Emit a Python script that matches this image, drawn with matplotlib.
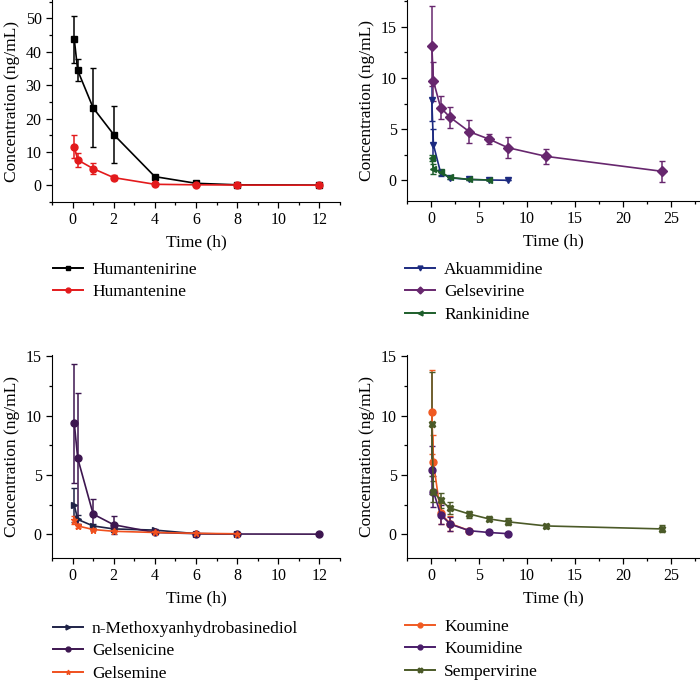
import matplotlib
matplotlib.use("Agg")
from matplotlib import pyplot as plt
from matplotlib.lines import Line2D

plt.rcParams["font.family"] = ["Liberation Serif", "DejaVu Serif"]

# Sampling times (h)
t_short = [0.083, 0.25, 1, 2, 4, 6, 8, 12]
t_long = [0.083, 0.25, 1, 2, 4, 6, 8, 12, 24]
t_8 = [0.083, 0.25, 1, 2, 4, 6, 8]
t_6 = [0.083, 0.25, 1, 2, 4, 6]
t_4 = [0.083, 0.25, 1, 2, 4]

# Panel A
humantenirine = [43.7, 34.4, 23.2, 15.2, 2.6, 0.6, 0.15, 0.05]
humantenirine_sd = [7.0, 3.3, 11.8, 8.6, 0.4, 0.2, 0.05, 0.02]
humantenine = [11.6, 7.6, 5.0, 2.3, 0.3, 0.15, 0.08, 0.03]
humantenine_sd = [3.5, 2.2, 1.7, 0.7, 0.1, 0.05, 0.03, 0.01]

# Panel B
akuammidine = [7.8, 3.5, 0.75, 0.25, 0.1, 0.05, 0.02]
akuammidine_sd = [2.0, 1.5, 0.3, 0.15, 0.05, 0.03, 0.01]
gelsevirine = [13.15, 9.7, 7.1, 6.15, 4.75, 4.05, 3.2, 2.35, 0.9]
gelsevirine_sd = [3.9, 1.9, 1.15, 1.05, 1.1, 0.45, 1.0, 0.7, 1.0]
rankinidine = [2.2, 1.15, 0.8, 0.3, 0.1, 0.05]
rankinidine_sd = [0.3, 0.5, 0.3, 0.15, 0.05, 0.03]

# Panel C
nmethoxy = [2.45, 1.25, 0.7, 0.45, 0.35, 0.05, 0.02]
nmethoxy_sd = [1.45, 0.4, 0.2, 0.15, 0.1, 0.03, 0.01]
gelsenicine = [9.35, 6.4, 1.7, 0.8, 0.15, 0.05, 0.02, 0.01]
gelsenicine_sd = [5.0, 5.5, 1.3, 0.75, 0.1, 0.03, 0.01, 0.01]
gelsemine = [1.2, 0.7, 0.4, 0.25, 0.15, 0.08, 0.04]
gelsemine_sd = [0.35, 0.2, 0.15, 0.1, 0.05, 0.03, 0.02]

# Panel D
koumine = [10.3, 6.05, 1.75, 0.9, 0.3]
koumine_sd = [3.5, 2.3, 0.9, 0.6, 0.1]
koumidine = [5.4, 3.6, 1.65, 0.85, 0.3, 0.15, 0.05]
koumidine_sd = [2.0, 1.3, 0.8, 0.6, 0.1, 0.05, 0.03]
sempervirine = [9.3, 3.6, 2.85, 2.2, 1.7, 1.3, 1.05, 0.7, 0.45]
sempervirine_sd = [4.4, 0.9, 0.6, 0.5, 0.3, 0.2, 0.3, 0.2, 0.3]

panels = [
    {
        "rect": [52, 0, 288, 202],
        "xlim": (-1, 13), "ylim": (-5, 55.5),
        "xticks": range(0, 13, 2), "yticks": range(0, 51, 10),
        "xminor": 1, "yminor": 5,
        "legend": (53, 262),
        "series": [
            ("Humantenirine", t_short, humantenirine, humantenirine_sd, "black", "s"),
            ("Humantenine", t_short, humantenine, humantenine_sd, "#e31a1c", "o"),
        ],
    },
    {
        "rect": [407, 0, 293, 201],
        "xlim": (-2.5, 28), "ylim": (-2, 17.6),
        "xticks": range(0, 26, 5), "yticks": range(0, 16, 5),
        "xminor": 2.5, "yminor": 2.5,
        "legend": (405, 262),
        "series": [
            ("Akuammidine", t_8, akuammidine, akuammidine_sd, "#1c2a80", "v"),
            ("Gelsevirine", t_long, gelsevirine, gelsevirine_sd, "#67276e", "D"),
            ("Rankinidine", t_6, rankinidine, rankinidine_sd, "#1d5e2b", "<"),
        ],
    },
    {
        "rect": [52, 355, 288, 203],
        "xlim": (-1, 13), "ylim": (-2, 15.1),
        "xticks": range(0, 13, 2), "yticks": range(0, 16, 5),
        "xminor": 1, "yminor": 2.5,
        "legend": (53, 621),
        "series": [
            ("n-Methoxyanhydrobasinediol", t_8, nmethoxy, nmethoxy_sd, "#1f2347", ">"),
            ("Gelsenicine", t_short, gelsenicine, gelsenicine_sd, "#3d1650", "o"),
            ("Gelsemine", t_8, gelsemine, gelsemine_sd, "#f0501e", "*"),
        ],
    },
    {
        "rect": [407, 355, 293, 203],
        "xlim": (-2.5, 28), "ylim": (-2, 15.1),
        "xticks": range(0, 26, 5), "yticks": range(0, 16, 5),
        "xminor": 2.5, "yminor": 2.5,
        "legend": (405, 619),
        "series": [
            ("Koumine", t_4, koumine, koumine_sd, "#f05a22", "o"),
            ("Koumidine", t_8, koumidine, koumidine_sd, "#4a1d6a", "o"),
            ("Sempervirine", t_long, sempervirine, sempervirine_sd, "#4b5a28", "X"),
        ],
    },
]

W, H = 700, 683
fig = plt.figure(figsize=(W / 100, H / 100), dpi=100)

for p in panels:
    x0, y0, w, h = p["rect"]
    ax = fig.add_axes([x0 / W, 1 - (y0 + h) / H, w / W, h / H])
    handles = []
    for name, t, mean, sd, col, mk in p["series"]:
        ax.errorbar(t, mean, yerr=sd, color=col, marker=mk, markersize=5,
                    linewidth=1.2, elinewidth=1.1, capsize=2.5, capthick=1.0)
        handles.append(Line2D([], [], color=col, marker=mk, markersize=3.5,
                              linewidth=1.4, label=name))
    ax.set_xlim(*p["xlim"])
    ax.set_ylim(*p["ylim"])
    ax.set_xticks(list(p["xticks"]))
    ax.set_yticks(list(p["yticks"]))
    ax.xaxis.set_minor_locator(matplotlib.ticker.MultipleLocator(p["xminor"]))
    ax.yaxis.set_minor_locator(matplotlib.ticker.MultipleLocator(p["yminor"]))
    ax.spines["top"].set_visible(False)
    ax.spines["right"].set_visible(False)
    ax.tick_params(direction="out", length=4, width=0.9, labelsize=11.5)
    ax.tick_params(which="minor", direction="out", length=2.5, width=0.9)
    ax.set_xlabel("Time (h)", fontsize=12.5)
    ax.set_ylabel("Concentration (ng/mL)", fontsize=12.5)
    lx, ly = p["legend"]
    fig.legend(handles=handles, loc="upper left", bbox_to_anchor=(lx / W, 1 - ly / H),
               frameon=False, fontsize=12.5, borderpad=0, borderaxespad=0,
               handlelength=1.7, handletextpad=0.55, labelspacing=0.35)

fig.savefig("out.png", dpi=100)
